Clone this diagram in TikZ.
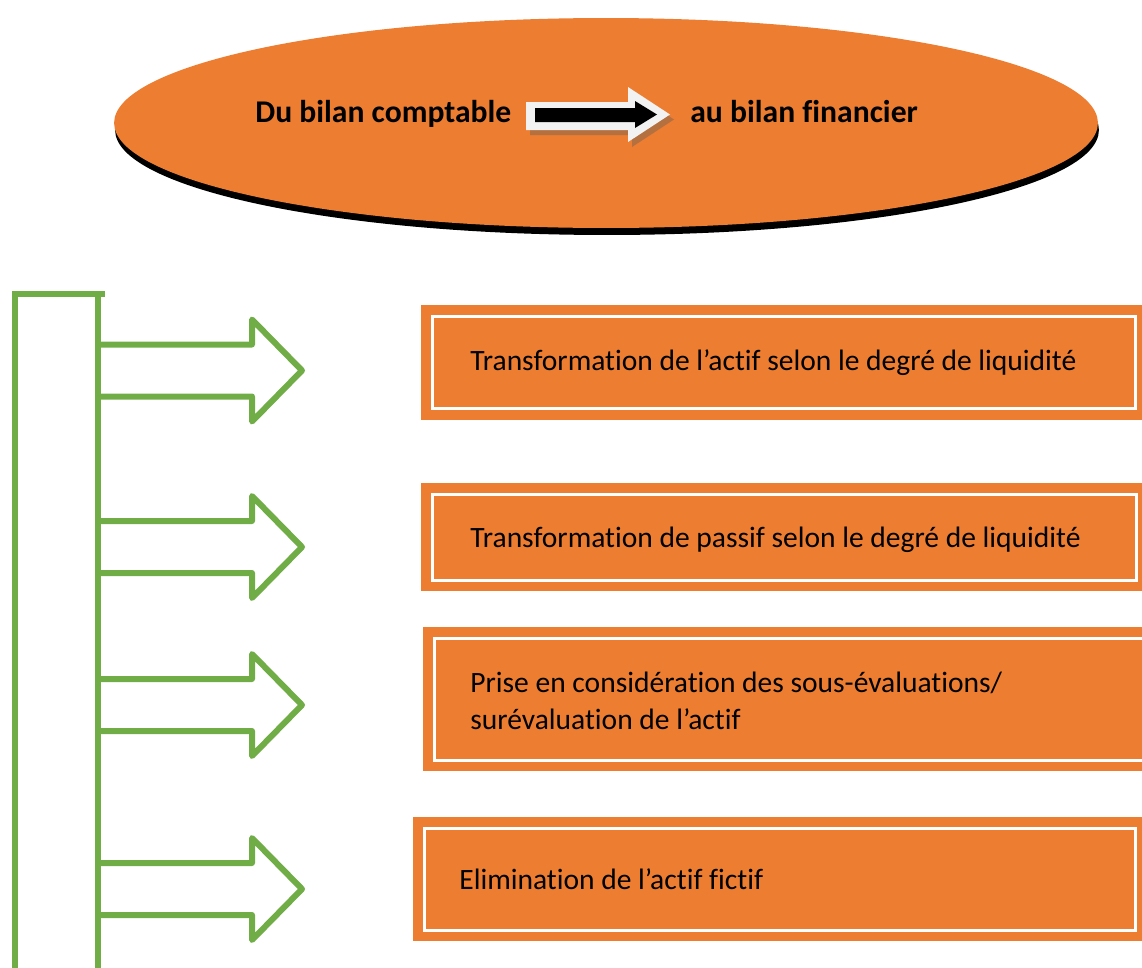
\documentclass[tikz,border=0pt]{standalone}
\usepackage{fontspec}
\setmainfont[Ligatures={NoCommon}]{Carlito}
\usetikzlibrary{shapes.geometric}
\definecolor{orng}{HTML}{ED7D31}
\definecolor{grn}{HTML}{70AD47}
\definecolor{shd}{HTML}{B5703F}
\begin{document}
\begin{tikzpicture}[x=0.02cm,y=-0.02cm,
  gline/.style={draw=grn,line width=0.12cm},
  garrow/.style={draw=grn,line width=0.12cm,line join=round},
  box/.style={draw=white,fill=orng,line width=0.06cm,preaction={draw=orng,line width=0.44cm},inner sep=0pt},
  boxtext/.style={anchor=base west,inner sep=0pt,font=\fontsize{16.8}{21}\selectfont,align=left},
  title/.style={font=\bfseries\fontsize{18}{21}\selectfont,inner sep=0pt,anchor=base west}]
\useasboundingbox (0,0) rectangle (1142,967);
\clip (0,0) rectangle (1142,967);
% ellipse
\node[ellipse,fill=black,minimum width=19.68cm,minimum height=4.2cm,inner sep=0pt] (shadow) at (607,130) {};
\node[ellipse,fill=orng,minimum width=19.68cm,minimum height=4.2cm,inner sep=0pt] (ell) at (606,123) {};
\node[title] (t1) at (255,122) {Du bilan comptable};
\node[title] (t2) at (690,122) {au bilan financier};
% block arrow
\fill[shd] (530,107) -- (632,107) -- (632,92) -- (674,119.5) -- (632,147) -- (632,135) -- (530,135) -- cycle;
\fill[white!95!black] (526,102) -- (628,102) -- (628,87) -- (670,114.5) -- (628,142) -- (628,130) -- (526,130) -- cycle;
\fill[black] (535,108) -- (635,108) -- (635,101) -- (657,114.5) -- (635,128) -- (635,122) -- (535,122) -- cycle;
% green frame
\draw[gline] (12,294) -- (105,294);
\draw[gline] (15,291) -- (15,975);
\draw[gline] (98,291) -- (98,975);
\foreach \c in {370.5,547,705,889}{
  \draw[garrow] (98,\c-26) -- (252,\c-26) -- (252,\c-51) -- (302,\c) -- (252,\c+51) -- (252,\c+26) -- (98,\c+26);
}
% boxes
\node[box,minimum width=14.08cm,minimum height=1.86cm] (b1) at (784,362.5) {};
\node[box,minimum width=14.10cm,minimum height=1.72cm] (b2) at (784.5,537) {};
\node[box,minimum width=14.24cm,minimum height=2.44cm] (b3) at (790,699) {};
\node[box,minimum width=14.24cm,minimum height=2.04cm] (b4) at (780,879) {};
\node[boxtext] (x1) at (470,370) {Transformation de l’actif selon le degré de liquidité};
\node[boxtext] (x2) at (470,547) {Transformation de passif selon le degré de liquidité};
\node[boxtext] (x3) at (470,729) {Prise en considération des sous-évaluations/\\surévaluation de l’actif};
\node[boxtext] (x4) at (459,889) {Elimination de l’actif fictif};
\end{tikzpicture}
\end{document}
